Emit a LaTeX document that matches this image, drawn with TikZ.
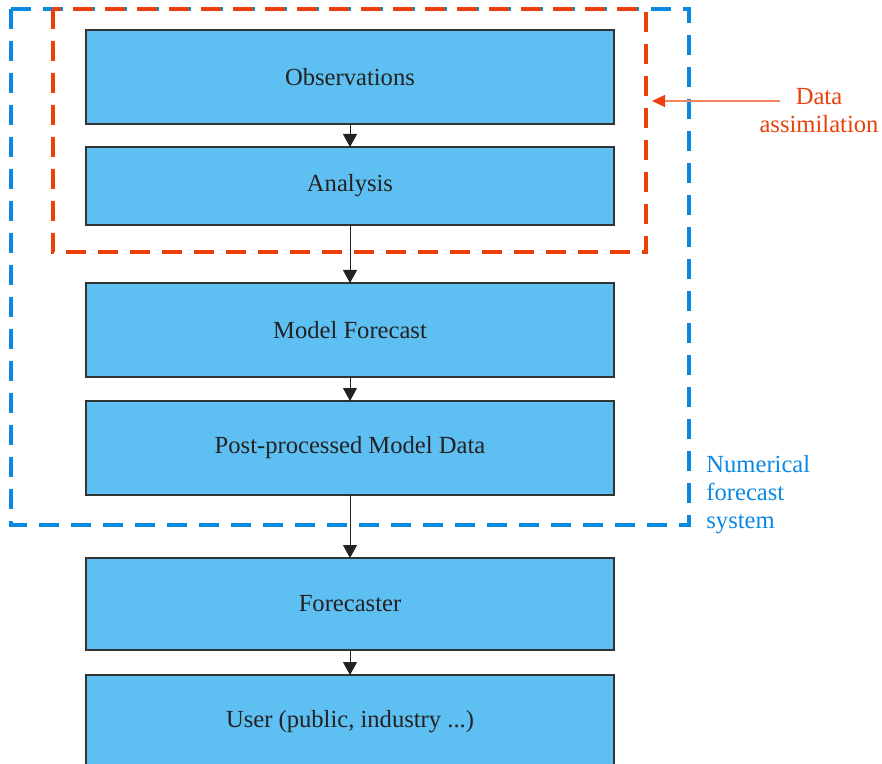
\documentclass[tikz,border=0pt]{standalone}
\usepackage{fontspec}
\setmainfont{Liberation Serif}
\usetikzlibrary{arrows.meta,positioning}
\definecolor{boxblue}{HTML}{5EBFF2}
\definecolor{edge}{HTML}{333333}
\definecolor{ink}{HTML}{222222}
\definecolor{dared}{HTML}{EA410A}
\definecolor{nfblue}{HTML}{0A89E2}

\begin{document}
\begin{tikzpicture}[x=0.5pt,y=-0.5pt,
    every node/.style={font=\fontsize{12.3}{14}\selectfont},
    box/.style={draw=edge,line width=0.8pt,fill=boxblue,text=ink,minimum width=264pt,outer sep=0pt,inner sep=0pt},
    flow/.style={-{Triangle[width=7pt,length=6.5pt]},line width=0.5pt,draw=ink},
    frame/.style={line width=2.1pt,dash pattern=on 10pt off 6pt}]
      \useasboundingbox (0,0) rectangle (882,764);
      \node[box,minimum height=47pt] (obs) at (350,77) {Observations};
      \node[box,minimum height=39pt,below=11.5pt of obs] (ana) {Analysis};
      \node[box,minimum height=47pt,below=29pt of ana] (mf) {Model Forecast};
      \node[box,minimum height=47pt,below=12pt of mf] (pp) {Post-processed Model Data};
      \node[box,minimum height=46pt,below=31.5pt of pp] (fc) {Forecaster};
      \node[box,minimum height=47pt,below=12.5pt of fc] (user) {User (public, industry ...)};
      \foreach \x/\y in {obs/ana,ana/mf,mf/pp,pp/fc,fc/user} \draw[flow] (\x)--(\y);
      % dashed frames
      \draw[frame,nfblue] (11,9) rectangle (689,525);
      \draw[frame,dared] (53,9) rectangle (646,252);
      % labels
      \node[text=dared,align=center] (da) at (819,111) {Data\\assimilation};
      \coordinate (daTail) at (780,101);
      \coordinate (daTip) at (652,101);
      \draw[-{Triangle[width=6pt,length=6.5pt,color=dared]},dared!65,line width=0.6pt] (daTail)--(daTip);
      \node[text=nfblue,align=left,anchor=west,inner sep=0pt] (nfs) at (706,495) {Numerical\\forecast\\system};
    \end{tikzpicture}
\end{document}
